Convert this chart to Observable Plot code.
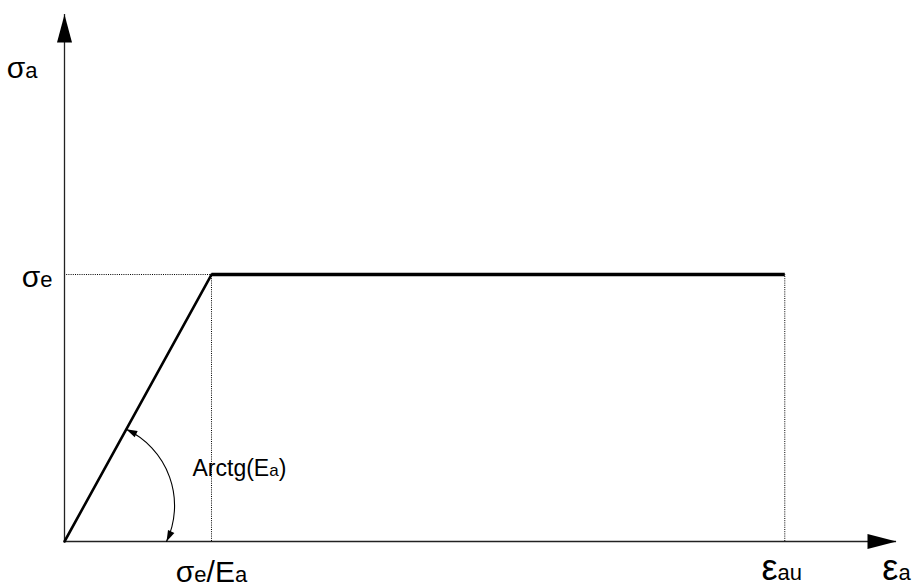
<!DOCTYPE html>
<html>
<head>
<meta charset="utf-8">
<script src="https://cdn.jsdelivr.net/npm/d3@7"></script>
<script src="https://cdn.jsdelivr.net/npm/@observablehq/plot@0.6"></script>
<style>
  body { margin: 0; background: #fff; }
  #chart { width: 918px; height: 587px; }
</style>
</head>
<body>
<div id="chart"></div>
<script>
// Elastic – perfectly plastic stress–strain law of structural steel.
// Strain in units of σe/Ea, stress in units of σe.
const strain = [0, 1, 4.9];          // 0, σe/Ea, εau
const stress = [0, 1, 1];            // 0, σe, σe
const strainMax = 5.66;              // tip of the strain axis
const stressMax = 1.974;             // tip of the stress axis

const xTicks = [1, 4.9];
const xTickLabels = ["σ_{e}/E_{a}", "ε_{au}"];
const yTicks = [1];
const yTickLabels = ["σ_{e}"];
const xAxisLabel = "ε_{a}";
const yAxisLabel = "σ_{a}";

// Angle annotation for the elastic slope
const slopeLabel = "Arctg(E_{a})";
const slopeArcFrom = [0.42, 0.42];   // point on the elastic branch
const slopeArcTo = [0.694, 0];       // point on the strain axis
const slopeLabelAt = [0.871, 0.247];

const FONT = '"Liberation Sans", Arial, Helvetica, sans-serif';
const W = 918, H = 587;
const margin = {top: 14, right: 22, bottom: 46, left: 64};

// same mapping as the plot, used to orient the small arrowheads
const X = Plot.scale({x: {domain: [0, strainMax], range: [margin.left, W - margin.right]}});
const Y = Plot.scale({y: {domain: [0, stressMax], range: [H - margin.bottom, margin.top]}});

// filled, elongated arrowhead for Plot.vector (tip at the anchor when anchor = "end")
const wedge = {
  draw(context, l, r) {
    context.moveTo(0, -l);
    context.lineTo(r, 0);
    context.lineTo(-r, 0);
    context.closePath();
  }
};

// text measuring for labels that mix normal glyphs and subscripts
const ctx = document.createElement("canvas").getContext("2d");
function measure(t, size) {
  ctx.font = `${size}px ${FONT}`;
  return ctx.measureText(t).width;
}
function splitLabel(label, main, sub) {
  const out = [];
  label.replace(/([^_]+)|_\{([^}]*)\}/g, (m, a, b) => {
    if (a) {
      for (const run of a.split(/(ε)/)) {
        if (run) out.push({t: run, size: run === "ε" ? main * 1.2 : main});
      }
    } else {
      out.push({t: b, size: sub});
    }
    return m;
  });
  return out;
}
function label(text, x, y, {dx = 0, dy = 0, anchor = "middle", main = 30, sub = 22} = {}) {
  const parts = splitLabel(text, main, sub);
  const widths = parts.map((p) => measure(p.t, p.size));
  const total = d3.sum(widths);
  let off = dx - (anchor === "middle" ? total / 2 : anchor === "end" ? total : 0);
  return parts.map((p, i) => {
    const mark = Plot.text([{x, y, t: p.t}], {
      x: "x", y: "y", text: "t",
      dx: off, dy,
      textAnchor: "start", lineAnchor: "bottom",
      fontSize: p.size, fontFamily: FONT, fill: "black"
    });
    off += widths[i];
    return mark;
  });
}

const curve = strain.map((e, i) => ({e, s: stress[i]}));

// slope arc geometry (pixel space) for the arrowhead directions
const bend = 45;
const ax1 = X.apply(slopeArcFrom[0]), ay1 = Y.apply(slopeArcFrom[1]);
const ax2 = X.apply(slopeArcTo[0]), ay2 = Y.apply(slopeArcTo[1]);
const chordAngle = Math.atan2(ay2 - ay1, ax2 - ax1) * 180 / Math.PI;
const startHead = chordAngle - bend + 180 + 90;
const endHead = chordAngle + bend + 90;

const plot = Plot.plot({
  width: W,
  height: H,
  marginTop: margin.top,
  marginRight: margin.right,
  marginBottom: margin.bottom,
  marginLeft: margin.left,
  x: {domain: [0, strainMax], axis: null},
  y: {domain: [0, stressMax], axis: null},
  style: {background: "white", overflow: "visible"},
  marks: [
    // dotted guides to the yield point and to the ultimate strain
    Plot.ruleY([stress[1]], {x1: 0, x2: strain[1], stroke: "black", strokeWidth: 1, strokeDasharray: "1,1.2"}),
    Plot.ruleX([strain[1], strain[2]], {y1: 0, y2: stress[1], stroke: "black", strokeWidth: 1, strokeDasharray: "1,1.2"}),

    // axes with arrowheads
    Plot.ruleY([0], {x1: 0, x2: strainMax, stroke: "#222", strokeWidth: 1.3}),
    Plot.ruleX([0], {y1: 0, y2: stressMax, stroke: "#222", strokeWidth: 1.3}),
    Plot.vector([{x: strainMax, y: 0}], {x: "x", y: "y", length: 29, rotate: 90, r: 7.5, anchor: "end", shape: wedge, fill: "black", stroke: "none"}),
    Plot.vector([{x: 0, y: stressMax}], {x: "x", y: "y", length: 28, rotate: 0, r: 7.5, anchor: "end", shape: wedge, fill: "black", stroke: "none"}),

    // elastic branch and plastic plateau
    Plot.line(curve.slice(0, 2), {x: "e", y: "s", stroke: "black", strokeWidth: 2.6}),
    Plot.line(curve.slice(1), {x: "e", y: "s", stroke: "black", strokeWidth: 3.6, strokeLinecap: "butt"}),

    // slope angle arc
    Plot.arrow([{}], {
      x1: () => slopeArcFrom[0], y1: () => slopeArcFrom[1],
      x2: () => slopeArcTo[0], y2: () => slopeArcTo[1],
      bend, headLength: 0, stroke: "black", strokeWidth: 1.1
    }),
    Plot.vector([{x: slopeArcFrom[0], y: slopeArcFrom[1]}], {x: "x", y: "y", length: 11, rotate: startHead, r: 3.5, anchor: "end", shape: wedge, fill: "black", stroke: "none"}),
    Plot.vector([{x: slopeArcTo[0], y: slopeArcTo[1]}], {x: "x", y: "y", length: 11, rotate: endHead, r: 3.5, anchor: "end", shape: wedge, fill: "black", stroke: "none"}),

    // labels
    ...label(yAxisLabel, 0, stressMax, {dx: -27, dy: 63, anchor: "end"}),
    ...yTicks.flatMap((v, i) => label(yTickLabels[i], 0, v, {dx: -12, dy: 12, anchor: "end"})),
    ...xTicks.flatMap((v, i) => label(xTickLabels[i], v, 0, {dx: i === 1 ? -3 : 0, dy: i === 1 ? 38 : 40})),
    ...label(xAxisLabel, strainMax, 0, {dy: 38}),
    ...label(slopeLabel, slopeLabelAt[0], slopeLabelAt[1], {anchor: "start", main: 23, sub: 17})
  ]
});

document.getElementById("chart").appendChild(plot);
</script>
</body>
</html>
